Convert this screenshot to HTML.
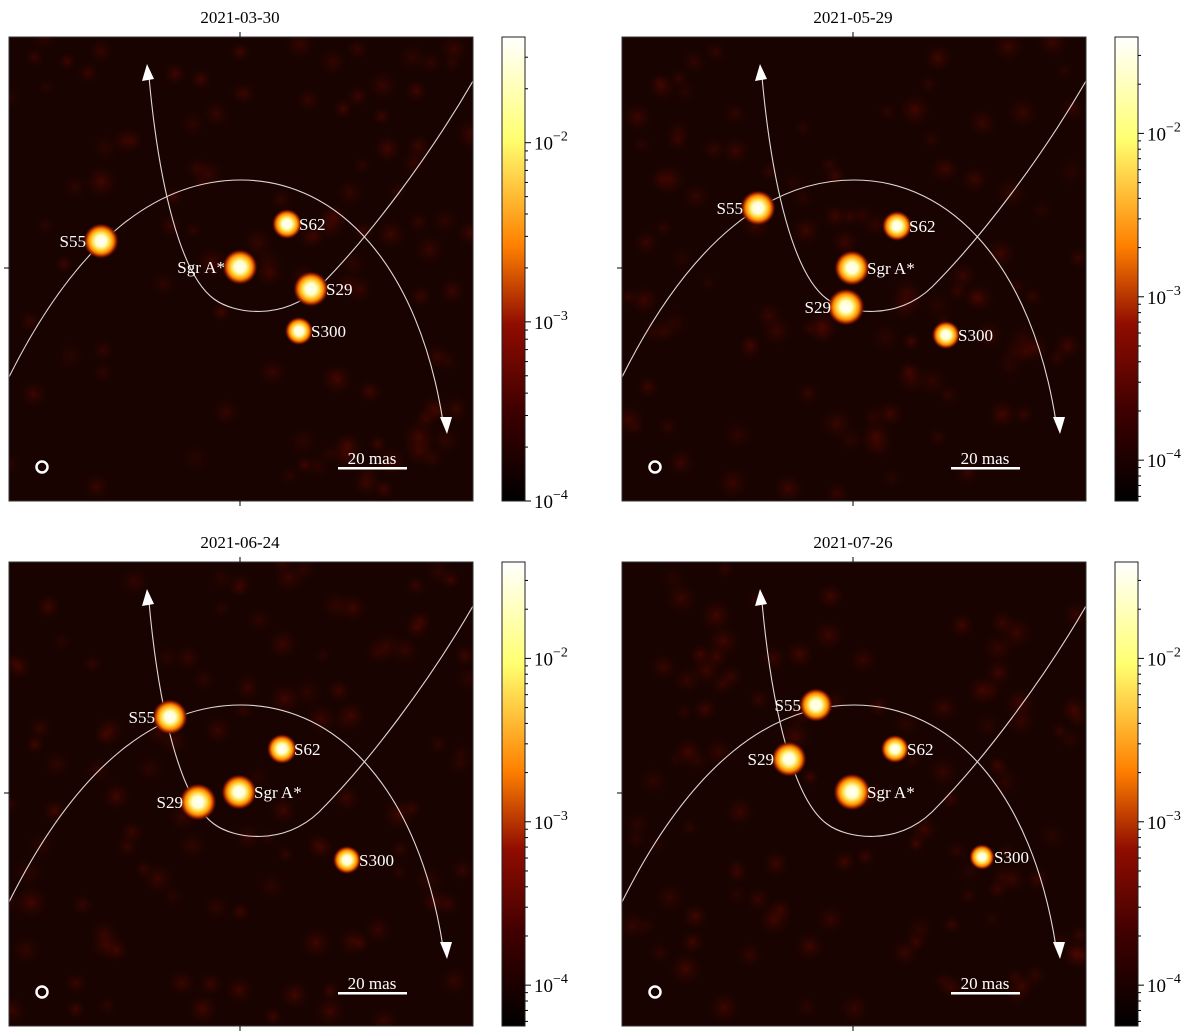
<!DOCTYPE html>
<html><head><meta charset="utf-8"><style>
body{margin:0;background:#fff;}
svg{display:block;font-family:"Liberation Serif",serif;}
</style></head><body>
<svg id="fig" width="1200" height="1033" viewBox="0 0 1200 1033">
<defs>
<radialGradient id="star">
<stop offset="0" stop-color="#ffffff"/>
<stop offset="0.3" stop-color="#ffffd0"/>
<stop offset="0.5" stop-color="#ffd840"/>
<stop offset="0.68" stop-color="#ff8a00"/>
<stop offset="0.85" stop-color="#8a1800"/>
<stop offset="1" stop-color="#200500" stop-opacity="0"/>
</radialGradient>
<radialGradient id="blob">
<stop offset="0" stop-color="#5a0800" stop-opacity="0.8"/>
<stop offset="1" stop-color="#2a0400" stop-opacity="0"/>
</radialGradient>
<linearGradient id="cmap" x1="0" y1="1" x2="0" y2="0">
<stop offset="0" stop-color="#000000"/>
<stop offset="0.2" stop-color="#400000"/>
<stop offset="0.38" stop-color="#900c00"/>
<stop offset="0.55" stop-color="#ff8000"/>
<stop offset="0.78" stop-color="#ffff70"/>
<stop offset="1" stop-color="#ffffff"/>
</linearGradient>
<clipPath id="clipImg"><rect x="0" y="0" width="464" height="464"/></clipPath>
</defs>
</svg>
<script>
const titles=["2021-03-30","2021-05-29","2021-06-24","2021-07-26"];
const starNames=["S55","Sgr A*","S62","S29","S300"];
// star positions in image pixel coords (0..464) per epoch
const starX=[[92,231,278,302,290],[136,230,275,224,324],[161,230,273,189,338],[194,230,273,167,360]];
const starY=[[204,230,187,252,294],[171,231,189,270,298],[155,230,187,240,298],[143,230,187,197,295]];
const starFlux=[[1.0,1.0,0.7,1.0,0.6],[1.0,1.0,0.7,1.1,0.6],[1.0,1.0,0.7,1.1,0.6],[0.9,1.1,0.6,1.0,0.45]];
// label side: 1 right, -1 left
const labelSide=[[-1,-1,1,1,1],[-1,1,1,-1,1],[-1,1,1,-1,1],[-1,1,1,-1,1]];
const cbTicks=[-2,-3,-4];
const cbTop=[-1.41,-1.41,-1.41,-1.41];
const cbBottom=[-4,-4.25,-4.25,-4.25];
const origins=[[9,37],[622,37],[9,562],[622,562]];
const NS="http://www.w3.org/2000/svg";
const svg=document.getElementById('fig');
function mk(tag,attrs,parent){const e=document.createElementNS(NS,tag);for(const k in attrs)e.setAttribute(k,attrs[k]);(parent||svg).appendChild(e);return e;}
let seed=7;function rnd(){seed=(seed*16807)%2147483647;return seed/2147483647;}
for(let p=0;p<4;p++){
 const [ox,oy]=origins[p];
 const g=mk('g',{transform:`translate(${ox},${oy})`});
 
 
 const t=mk('text',{x:231,y:-14,'text-anchor':'middle','font-size':17,fill:'#000'},g);
 t.textContent=titles[p];
 
 
 const img=mk('g',{'clip-path':'url(#clipImg)'},g);
 
 
 mk('rect',{x:0,y:0,width:464,height:464,fill:'#180300'},img);
 for(let i=0;i<110;i++){mk('circle',{cx:rnd()*464,cy:rnd()*464,r:10+rnd()*8,fill:'url(#blob)',opacity:0.3+rnd()*0.5},img);}
 // orbits
 const o1=mk('path',{d:'M0,340 C70,200 150,143 232,143 C330,143 410,230 434,385',fill:'none',stroke:'#e0d8d8','stroke-width':1.1},img);
 
 
 mk('polygon',{points:'431,380 443,380 438,397',fill:'#fff'},img);
 const o2=mk('path',{d:'M140,40 C150,150 172,238 205,262 C225,277 275,284 310,250 C360,200 420,120 464,44',fill:'none',stroke:'#e0d8d8','stroke-width':1.1},img);
 
 
 mk('polygon',{points:'133,44 145,42 138,27',fill:'#fff'},img);
 for(let s=0;s<5;s++){
  const x=starX[p][s],y=starY[p][s],f=starFlux[p][s];
  const c=mk('circle',{cx:x,cy:y,r:9+9*f,fill:'url(#star)'},img);
  
  
  const side=labelSide[p][s];
  const lb=mk('text',{x:x+side*(f>0.8?15:12),y:y+6,'text-anchor':side>0?'start':'end','font-size':17,fill:'#fff'},img);
  lb.textContent=starNames[s];
  
  
 }
 const beam=mk('circle',{cx:33,cy:430,r:5.5,fill:'none',stroke:'#fff','stroke-width':2.5},img);
 
 
 const sb=mk('text',{x:363,y:427,'text-anchor':'middle','font-size':17,fill:'#fff'},img);
 sb.textContent='20 mas';
 
 
 mk('rect',{x:329,y:430,width:69,height:2.5,fill:'#fff'},img);
 mk('rect',{x:0,y:0,width:464,height:464,fill:'none',stroke:'#333','stroke-width':1},g);
 mk('line',{x1:231,y1:0,x2:231,y2:-5,stroke:'#000','stroke-width':1},g);
 mk('line',{x1:231,y1:464,x2:231,y2:469,stroke:'#000','stroke-width':1},g);
 mk('line',{x1:0,y1:231,x2:-5,y2:231,stroke:'#000','stroke-width':1},g);
 // colorbar
 const cb=mk('g',{transform:'translate(493,0)'},g);
 
 
 mk('rect',{x:0,y:0,width:23,height:464,fill:'url(#cmap)',stroke:'#222','stroke-width':1},cb);
 const top=cbTop[p],bot=cbBottom[p];
 const yOf=v=>464*(top-v)/(top-bot);
 for(let d=-5;d<=-1;d++){for(let m=1;m<10;m++){const v=d+Math.log10(m);if(v>top||v<bot-1e-9)continue;const yy=yOf(v);
  mk('line',{x1:23,y1:yy,x2:m==1?29:26,y2:yy,stroke:'#000','stroke-width':1},cb);}}
 cbTicks.forEach(v=>{if(v<bot-1e-9)return;const yy=yOf(v);
  const tl=mk('text',{x:32,y:yy+7,'font-size':19,fill:'#000'},cb);
  tl.textContent='10';
  const sp=mk('tspan',{dy:-9,'font-size':14},tl);sp.textContent='\u2212'+(-v);
  
  });
}
</script>
</body></html>
